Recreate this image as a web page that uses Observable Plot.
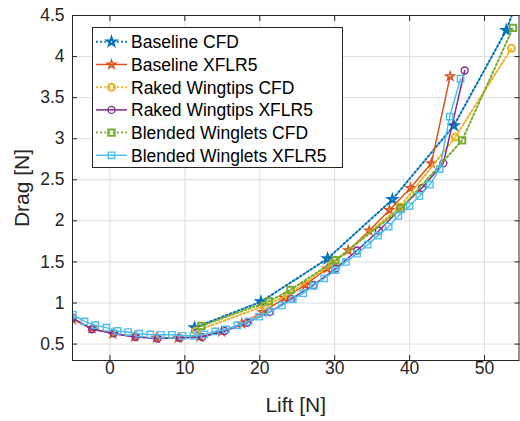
<!DOCTYPE html>
<html><head><meta charset="utf-8">
<script src="https://cdn.jsdelivr.net/npm/d3@7"></script>
<script src="https://cdn.jsdelivr.net/npm/@observablehq/plot@0.6"></script>
<style>
body{margin:0;background:#fff;}
#chart{position:relative;width:520px;height:421px;font-family:"Liberation Sans",Arial,Helvetica,sans-serif;}
#chart svg{overflow:visible;}
#legend{position:absolute;left:0;top:0;pointer-events:none;}
</style></head><body><div id="chart"></div>
<script>
// ---- data ----
const seriesNames = ["Baseline CFD","Baseline XFLR5","Raked Wingtips CFD","Raked Wingtips XFLR5","Blended Winglets CFD","Blended Winglets XFLR5"];
const seriesColors = ["#0072BD","#D95319","#EDB120","#7E2F8E","#77AC30","#4DBEEE"];
const seriesSymbols = ["star","star","circle","circle","square","square"];
const seriesDotted = [true,false,true,false,true,false];

const baselineCfdLift = [11.3, 20.15, 29.05, 37.7, 45.9, 52.9, 56.0];
const baselineCfdDrag = [0.70, 1.015, 1.54, 2.26, 3.16, 4.32, 5.08];

const baselineXflrLift = [-5.0, -2.4, 0.4, 3.3, 6.2, 9.1, 12.0, 14.9, 17.6, 20.4, 23.3, 26.1, 29.0, 31.8, 34.6, 37.3, 40.1, 42.9, 45.4];
const baselineXflrDrag = [0.80, 0.69, 0.625, 0.59, 0.575, 0.575, 0.59, 0.65, 0.75, 0.89, 1.06, 1.22, 1.42, 1.64, 1.88, 2.13, 2.40, 2.70, 3.76];

const rakedCfdLift = [11.5, 20.6, 23.8, 29.7, 38.7, 46.1, 53.6];
const rakedCfdDrag = [0.66, 0.965, 1.10, 1.48, 2.17, 3.02, 4.10];

const rakedXflrLift = [-5.0, -2.4, 0.5, 3.4, 6.35, 9.3, 12.3, 15.3, 18.3, 21.3, 24.2, 27.2, 30.1, 33.0, 35.9, 38.8, 41.65, 44.5, 47.35];
const rakedXflrDrag = [0.82, 0.68, 0.63, 0.585, 0.568, 0.573, 0.585, 0.66, 0.76, 0.89, 1.05, 1.22, 1.42, 1.64, 1.88, 2.15, 2.40, 2.70, 3.83];

const blendedCfdLift = [12.2, 21.2, 24.1, 30.1, 38.85, 47.0, 53.8];
const blendedCfdDrag = [0.72, 1.02, 1.16, 1.52, 2.15, 2.98, 4.35];

const blendedXflrLift = [-4.94, -3.39, -1.96, -0.49, 1.0, 2.44, 3.9, 5.38, 6.8, 8.27, 9.7, 11.16, 12.6, 14.06, 15.5, 17.0, 18.5, 19.9, 21.4, 22.96, 24.4, 25.8, 27.2, 28.6, 30.1, 31.5, 33.0, 34.4, 35.8, 37.2, 38.5, 40.0, 41.3, 42.7, 44.0, 45.35, 46.8];
const blendedXflrDrag = [0.857, 0.776, 0.73, 0.70, 0.66, 0.646, 0.626, 0.617, 0.613, 0.613, 0.60, 0.60, 0.617, 0.654, 0.678, 0.727, 0.776, 0.833, 0.894, 0.97, 1.045, 1.12, 1.21, 1.30, 1.40, 1.50, 1.60, 1.71, 1.82, 1.93, 2.06, 2.18, 2.30, 2.44, 2.63, 3.27, 3.73];

const xTicks = [0, 10, 20, 30, 40, 50];
const yTicks = [0.5, 1, 1.5, 2, 2.5, 3, 3.5, 4, 4.5];
const xDomain = [-5, 54.6];
const yDomain = [0.3, 4.5];

const liftArrays = [baselineCfdLift, baselineXflrLift, rakedCfdLift, rakedXflrLift, blendedCfdLift, blendedXflrLift];
const dragArrays = [baselineCfdDrag, baselineXflrDrag, rakedCfdDrag, rakedXflrDrag, blendedCfdDrag, blendedXflrDrag];

const series = seriesNames.map((name, i) => liftArrays[i].map((lift, j) => ({series: name, lift, drag: dragArrays[i][j]})));

// ---- plot ----
const axisColor = "#262626";
const symbolR = {star: 2.7, circle: 3.5, square: 3.6};
const marks = [
  Plot.gridX(xTicks, {stroke: "#dedede", strokeOpacity: 1}),
  Plot.gridY(yTicks, {stroke: "#dedede", strokeOpacity: 1})
];
series.forEach((rows, i) => {
  marks.push(Plot.line(rows, {
    x: "lift", y: "drag", stroke: seriesColors[i],
    strokeWidth: seriesDotted[i] ? 2 : 1.5,
    strokeDasharray: seriesDotted[i] ? "1.8,2.4" : null,
    clip: true
  }));
  marks.push(Plot.dot(rows, {
    x: "lift", y: "drag", stroke: seriesColors[i], fill: "none",
    symbol: () => seriesSymbols[i], r: symbolR[seriesSymbols[i]],
    strokeWidth: seriesDotted[i] ? 2 : 1.4,
    clip: true
  }));
});
marks.push(
  Plot.frame({stroke: axisColor, strokeWidth: 1}),
  Plot.axisX(xTicks, {anchor: "bottom", tickSize: -5, text: null, stroke: axisColor, label: null}),
  Plot.axisX(xTicks, {anchor: "top", tickSize: -5, text: null, stroke: axisColor, label: null}),
  Plot.axisY(yTicks, {anchor: "left", tickSize: -5, text: null, stroke: axisColor, label: null}),
  Plot.axisY(yTicks, {anchor: "right", tickSize: -5, text: null, stroke: axisColor, label: null}),
  Plot.axisX(xTicks, {anchor: "bottom", tickSize: 0, tickPadding: 1, fontSize: 17.5, fill: axisColor, label: null}),
  Plot.axisY(yTicks, {anchor: "left", tickSize: 0, tickPadding: 8, fontSize: 17.5, fill: axisColor, label: null, tickFormat: d => String(d)}),
  Plot.text(["Lift [N]"], {frameAnchor: "bottom", dy: 45, fontSize: 21, fill: axisColor, lineAnchor: "middle"}),
  Plot.text(["Drag [N]"], {frameAnchor: "left", dx: -50, rotate: -90, fontSize: 21, fill: axisColor, lineAnchor: "middle", textAnchor: "middle"})
);

const chart = Plot.plot({
  width: 520, height: 421,
  marginLeft: 72, marginRight: 1.5, marginTop: 15, marginBottom: 61,
  style: {fontFamily: "'Liberation Sans', Arial, Helvetica, sans-serif", background: "white"},
  x: {domain: xDomain, type: "linear"},
  y: {domain: yDomain, type: "linear"},
  marks
});
const host = document.getElementById("chart");
host.appendChild(chart);

// ---- legend (overlay inside the axes, like MATLAB) ----
const lg = d3.select(host).append("svg").attr("id", "legend").attr("width", 520).attr("height", 421);
const box = {x: 92.5, y: 27.5, w: 250, h: 140};
lg.append("rect").attr("x", box.x).attr("y", box.y).attr("width", box.w).attr("height", box.h)
  .attr("fill", "white").attr("stroke", axisColor).attr("stroke-width", 1);
const symMap = {star: d3.symbolStar, circle: d3.symbolCircle, square: d3.symbolSquare};
seriesNames.forEach((name, i) => {
  const cy = box.y + 14.3 + i * 22.7;
  const g = lg.append("g");
  g.append("line").attr("x1", box.x + 3.5).attr("x2", box.x + 34.5).attr("y1", cy).attr("y2", cy)
    .attr("stroke", seriesColors[i]).attr("stroke-width", seriesDotted[i] ? 2 : 1.5)
    .attr("stroke-dasharray", seriesDotted[i] ? "1.8,2.4" : null);
  const r = symbolR[seriesSymbols[i]];
  g.append("path").attr("d", d3.symbol(symMap[seriesSymbols[i]], Math.PI * r * r)())
    .attr("transform", `translate(${box.x + 19},${cy})`)
    .attr("fill", "none").attr("stroke", seriesColors[i]).attr("stroke-width", seriesDotted[i] ? 2 : 1.4);
  g.append("text").attr("x", box.x + 38.5).attr("y", cy).attr("dy", "0.36em")
    .attr("font-size", 17.5).attr("fill", "#000")
    .attr("font-family", "'Liberation Sans', Arial, Helvetica, sans-serif")
    .text(name);
});
</script></body></html>
